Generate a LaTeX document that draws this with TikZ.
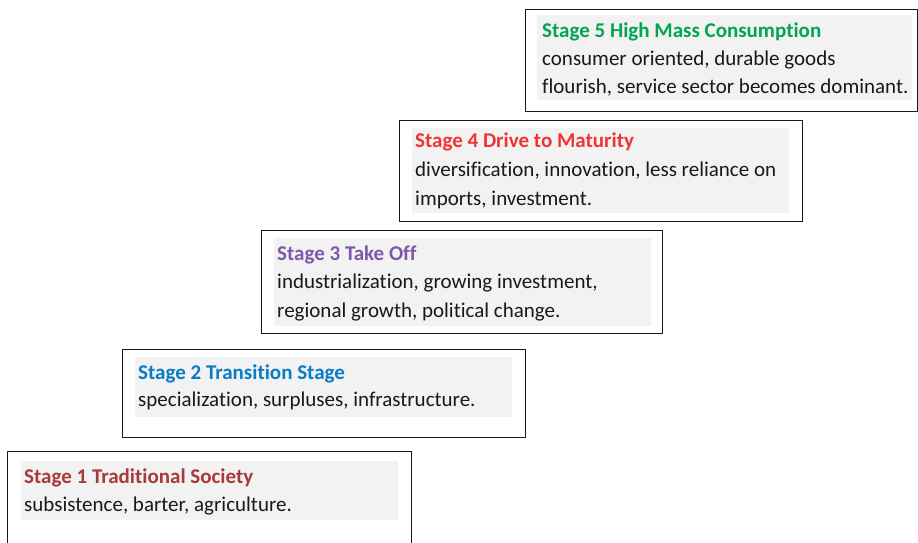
\documentclass[tikz,border=0pt]{standalone}
\usepackage{fontspec}
\setmainfont[Ligatures=CommonOff]{Carlito}
\definecolor{panelgray}{HTML}{F2F2F2}
\definecolor{stageone}{HTML}{A93A3A}
\definecolor{stagetwo}{HTML}{0A7CC2}
\definecolor{stagethree}{HTML}{7F58A8}
\definecolor{stagefour}{HTML}{EE3535}
\definecolor{stagefive}{HTML}{00A651}
\tikzset{
  frame/.style={draw=black!90, line width=1.3pt, anchor=north west, inner sep=0pt},
  panel/.style={fill=panelgray, anchor=north west, inner sep=0pt},
  title/.style={anchor=base west, inner sep=0pt, font=\fontsize{21}{24}\selectfont\bfseries},
  body/.style={anchor=base west, inner sep=0pt, font=\fontsize{21}{24}\selectfont, text=black!90},
}
\begin{document}
\begin{tikzpicture}[x=1pt,y=1pt]
\useasboundingbox (0,0) rectangle (918,542);

% Stage 1
\node[frame, minimum width=404pt, minimum height=110pt] (f1) at (7,91) {};
\node[panel, minimum width=377pt, minimum height=59pt] (p1) at (21,81) {};
\node[title, text=stageone] (t1) at (24,59) {Stage 1 Traditional Society};
\node[body] (b1a) at (24,31) {subsistence, barter, agriculture.};

% Stage 2
\node[frame, minimum width=403pt, minimum height=88pt] (f2) at (122,193) {};
\node[panel, minimum width=377pt, minimum height=60pt] (p2) at (135,185) {};
\node[title, text=stagetwo] (t2) at (138,163) {Stage 2 Transition Stage};
\node[body] (b2a) at (138,136) {specialization, surpluses, infrastructure.};

% Stage 3
\node[frame, minimum width=401pt, minimum height=103pt] (f3) at (261,312) {};
\node[panel, minimum width=377pt, minimum height=88pt] (p3) at (274,304) {};
\node[title, text=stagethree] (t3) at (277,282) {Stage 3 Take Off};
\node[body] (b3a) at (277,253.5) {industrialization, growing investment,};
\node[body] (b3b) at (277,225) {regional growth, political change.};

% Stage 4
\node[frame, minimum width=403pt, minimum height=101pt] (f4) at (399,422) {};
\node[panel, minimum width=377pt, minimum height=85pt] (p4) at (412,414) {};
\node[title, text=stagefour] (t4) at (415,394) {Stage 4 Drive to Maturity};
\node[body] (b4a) at (415,365.5) {diversification, innovation, less reliance on};
\node[body] (b4b) at (415,337) {imports, investment.};

% Stage 5
\node[frame, minimum width=392pt, minimum height=102pt] (f5) at (525,533) {};
\node[panel, minimum width=375pt, minimum height=85pt] (p5) at (537,527) {};
\node[title, text=stagefive] (t5) at (542,504) {Stage 5 High Mass Consumption};
\node[body] (b5a) at (542,476) {consumer oriented, durable goods};
\node[body] (b5b) at (542,448) {flourish, service sector becomes dominant.};
\end{tikzpicture}
\end{document}
